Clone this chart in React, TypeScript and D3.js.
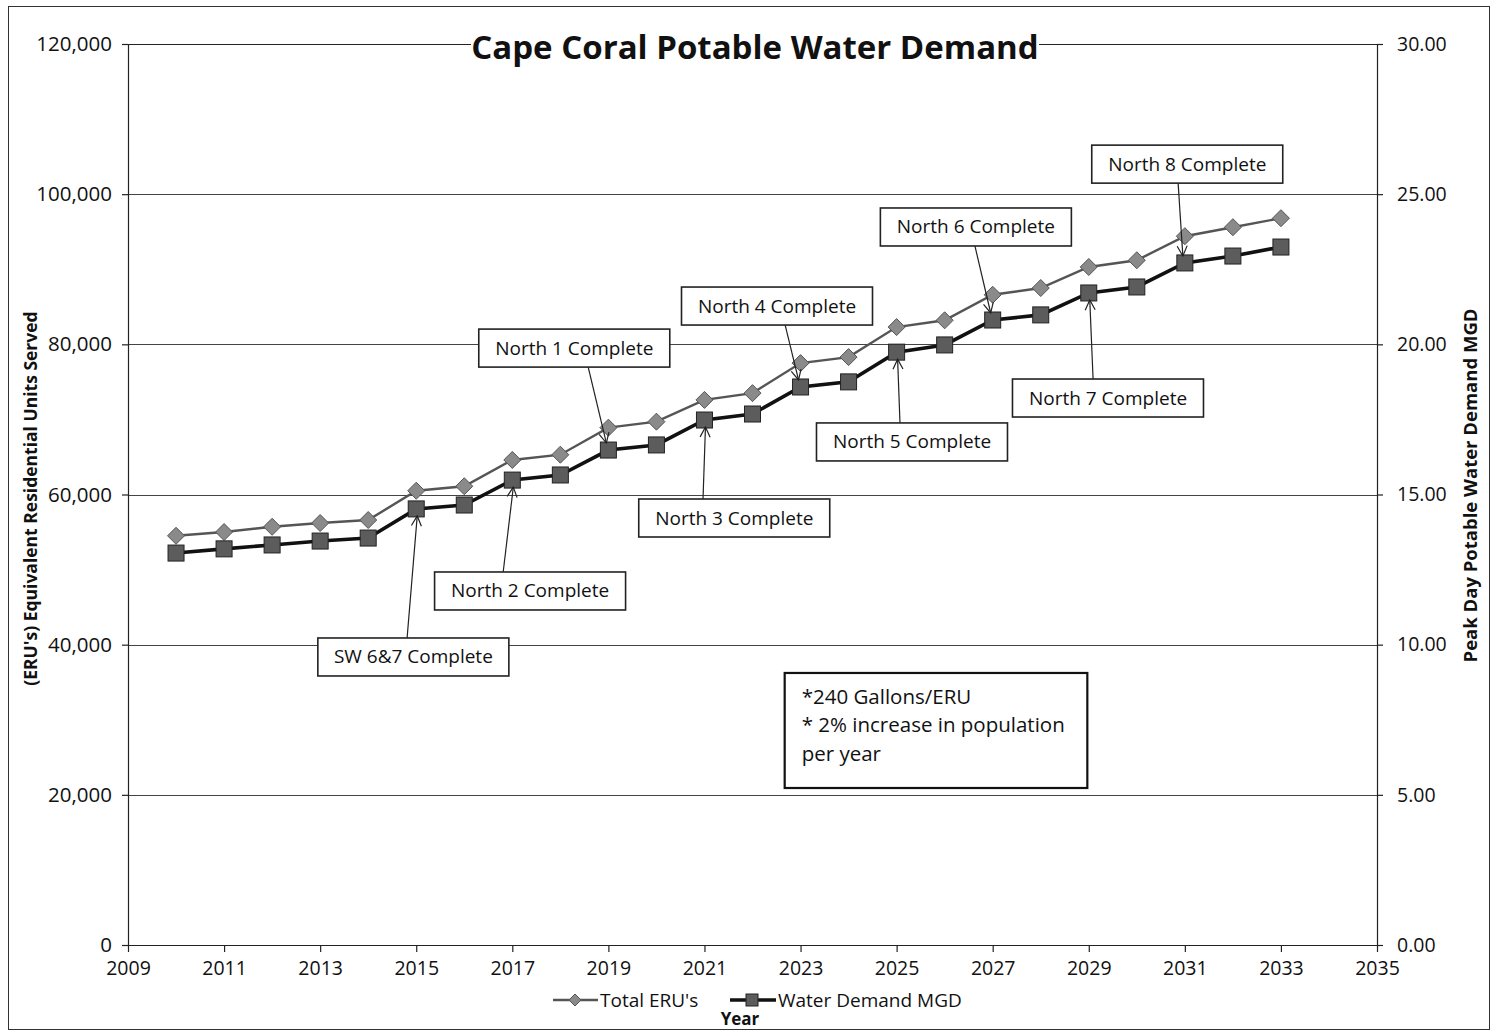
import React, { useEffect, useRef } from "react";
import * as d3 from "d3";

// values
const years = [2010, 2011, 2012, 2013, 2014, 2015, 2016, 2017, 2018, 2019, 2020, 2021, 2022, 2023, 2024, 2025, 2026, 2027, 2028, 2029, 2030, 2031, 2032, 2033];
const totalERUs = [54500, 55000, 55700, 56200, 56600, 60500, 61100, 64600, 65300, 68900, 69700, 72600, 73500, 77500, 78300, 82300, 83200, 86600, 87500, 90300, 91200, 94400, 95600, 96800];
const waterDemandMGD = [13.05, 13.19, 13.32, 13.45, 13.55, 14.52, 14.65, 15.48, 15.65, 16.48, 16.65, 17.48, 17.68, 18.58, 18.75, 19.74, 19.98, 20.81, 20.98, 21.71, 21.91, 22.71, 22.94, 23.24];

const xTicks = [2009, 2011, 2013, 2015, 2017, 2019, 2021, 2023, 2025, 2027, 2029, 2031, 2033, 2035];
const leftTicks = [0, 20000, 40000, 60000, 80000, 100000, 120000];
const rightTicks = [0, 5, 10, 15, 20, 25, 30];

const milestoneLabels = ["SW 6&7 Complete", "North 1 Complete", "North 2 Complete", "North 3 Complete", "North 4 Complete", "North 5 Complete", "North 6 Complete", "North 7 Complete", "North 8 Complete"];
const milestoneYears = [2015, 2019, 2017, 2021, 2023, 2025, 2027, 2029, 2031];

const noteLines = ["*240 Gallons/ERU", "* 2% increase in population", "per year"];

// where each callout box sits, in data units (year, ERU's)
const calloutLayout = [
  { boxYear: 2014.94, boxERU: 38360, lineYear: 2014.81, side: "below" },
  { boxYear: 2018.29, boxERU: 79500, lineYear: 2018.58, side: "above" },
  { boxYear: 2017.37, boxERU: 47150, lineYear: 2016.81, side: "below" },
  { boxYear: 2021.62, boxERU: 56870, lineYear: 2020.97, side: "below" },
  { boxYear: 2022.51, boxERU: 85100, lineYear: 2022.68, side: "above" },
  { boxYear: 2025.32, boxERU: 67000, lineYear: 2025.07, side: "below" },
  { boxYear: 2026.65, boxERU: 95630, lineYear: 2026.63, side: "above" },
  { boxYear: 2029.4, boxERU: 72850, lineYear: 2029.09, side: "below" },
  { boxYear: 2031.05, boxERU: 104000, lineYear: 2030.86, side: "above" },
];
const noteLayout = { year0: 2022.67, year1: 2028.97, eruTop: 36230, eruBottom: 20910 };

const FONT = "'Open Sans', 'Noto Sans', sans-serif";

export default function App() {
  const ref = useRef<SVGSVGElement>(null);
  const width = 1491;
  const height = 1032;
  const margin = { top: 44, right: 114, bottom: 87, left: 128 };

  useEffect(() => {
    const svg = d3.select(ref.current);
    svg.selectAll("*").remove();

    const x = d3.scaleLinear().domain([2009, 2035]).range([margin.left, width - margin.right]);
    const yL = d3.scaleLinear().domain([0, 120000]).range([height - margin.bottom, margin.top]);
    const yR = d3.scaleLinear().domain([0, 30]).range([height - margin.bottom, margin.top]);

    svg.append("rect").attr("width", width).attr("height", height).attr("fill", "#fff");
    // outer frame of the figure
    svg.append("rect")
      .attr("x", 8.5).attr("y", 6.5).attr("width", 1481).attr("height", 1023)
      .attr("fill", "none").attr("stroke", "#333").attr("stroke-width", 1);

    const defs = svg.append("defs");
    defs.append("marker")
      .attr("id", "arrow")
      .attr("viewBox", "0 0 12 12")
      .attr("refX", 11).attr("refY", 6)
      .attr("markerWidth", 12).attr("markerHeight", 12)
      .attr("markerUnits", "userSpaceOnUse")
      .attr("orient", "auto")
      .append("path")
      .attr("d", "M1,1 L11,6 L1,11")
      .attr("fill", "none").attr("stroke", "#222").attr("stroke-width", 1.2);

    // gridlines
    svg.append("g")
      .selectAll("line")
      .data(leftTicks.filter((d) => d > 0))
      .join("line")
      .attr("x1", x(2009)).attr("x2", x(2035))
      .attr("y1", (d) => Math.round(yL(d)) + 0.5).attr("y2", (d) => Math.round(yL(d)) + 0.5)
      .attr("stroke", (d) => (d === 120000 ? "#222" : "#444"))
      .attr("stroke-width", 1);

    const styleAxis = (g: any, size: number) => {
      g.selectAll("path").attr("stroke", "#222").attr("stroke-width", 1.2);
      g.selectAll("line").attr("stroke", "#222").attr("stroke-width", 1.2);
      g.selectAll("text").attr("font-family", FONT).attr("font-size", size).attr("fill", "#111");
    };

    svg.append("g")
      .attr("transform", `translate(${x(2009)},0)`)
      .call(d3.axisLeft(yL).tickValues(leftTicks).tickFormat(d3.format(",")).tickSize(6).tickSizeOuter(0).tickPadding(10))
      .call(styleAxis, 20.5);

    svg.append("g")
      .attr("transform", `translate(${x(2035)},0)`)
      .call(d3.axisRight(yR).tickValues(rightTicks).tickFormat(d3.format(".2f")).tickSize(6).tickSizeOuter(0).tickPadding(14))
      .call(styleAxis, 19.5);

    svg.append("g")
      .attr("transform", `translate(0,${yL(0)})`)
      .call(d3.axisBottom(x).tickValues(xTicks).tickFormat(d3.format("d")).tickSize(7).tickSizeOuter(0).tickPadding(9))
      .call(styleAxis, 19.5);

    // title with white backing over the top gridline
    svg.append("rect").attr("x", 471).attr("y", 28).attr("width", 568).attr("height", 40).attr("fill", "#fff");
    svg.append("text")
      .attr("x", 755).attr("y", 59)
      .attr("text-anchor", "middle")
      .attr("font-family", FONT).attr("font-weight", "bold").attr("font-size", 33)
      .attr("fill", "#111")
      .text("Cape Coral Potable Water Demand");

    svg.append("text")
      .attr("transform", `translate(37,${(yL(0) + yL(120000)) / 2 + 4}) rotate(-90)`)
      .attr("text-anchor", "middle")
      .attr("font-family", FONT).attr("font-weight", "bold").attr("font-size", 17.5)
      .attr("fill", "#111")
      .text("(ERU's) Equivalent Residential Units Served");

    svg.append("text")
      .attr("transform", `translate(1477,${(yL(0) + yL(120000)) / 2 - 9}) rotate(-90)`)
      .attr("text-anchor", "middle")
      .attr("font-family", FONT).attr("font-weight", "bold").attr("font-size", 18.5)
      .attr("fill", "#111")
      .text("Peak Day Potable Water Demand MGD");

    // series
    const eruLine = d3.line<number>().x((d, i) => x(years[i])).y((d) => yL(d));
    const mgdLine = d3.line<number>().x((d, i) => x(years[i])).y((d) => yR(d));

    svg.append("path").datum(totalERUs)
      .attr("d", eruLine).attr("fill", "none").attr("stroke", "#555").attr("stroke-width", 2.4);
    svg.append("path").datum(waterDemandMGD)
      .attr("d", mgdLine).attr("fill", "none").attr("stroke", "#111").attr("stroke-width", 3.6);

    const diamond = (r: number) => `M0,${-r} L${r},0 L0,${r} L${-r},0 Z`;

    svg.append("g")
      .selectAll("path")
      .data(totalERUs)
      .join("path")
      .attr("transform", (d, i) => `translate(${x(years[i])},${yL(d)})`)
      .attr("d", diamond(8.5))
      .attr("fill", "#8a8a8a").attr("stroke", "#555").attr("stroke-width", 1);

    svg.append("g")
      .selectAll("rect")
      .data(waterDemandMGD)
      .join("rect")
      .attr("x", (d, i) => x(years[i]) - 8)
      .attr("y", (d) => yR(d) - 8)
      .attr("width", 16).attr("height", 16)
      .attr("fill", "#5c5c5c").attr("stroke", "#222").attr("stroke-width", 1);

    // callouts
    const boxW = 191;
    const boxH = 38;
    const callouts = svg.append("g");
    milestoneLabels.forEach((label, i) => {
      const lay = calloutLayout[i];
      const idx = years.indexOf(milestoneYears[i]);
      const cx = x(lay.boxYear);
      const cy = yL(lay.boxERU);
      const tipX = x(milestoneYears[i]) + (lay.side === "below" ? 1 : -2);
      const tipY = yR(waterDemandMGD[idx]) + (lay.side === "below" ? 7 : -7);
      const startX = x(lay.lineYear);
      const startY = lay.side === "below" ? cy - boxH / 2 : cy + boxH / 2;

      callouts.append("line")
        .attr("x1", startX).attr("y1", startY)
        .attr("x2", tipX).attr("y2", tipY)
        .attr("stroke", "#222").attr("stroke-width", 1.2)
        .attr("marker-end", "url(#arrow)");

      callouts.append("rect")
        .attr("x", cx - boxW / 2).attr("y", cy - boxH / 2)
        .attr("width", boxW).attr("height", boxH)
        .attr("fill", "#fff").attr("stroke", "#222").attr("stroke-width", 1.6);

      callouts.append("text")
        .attr("x", cx).attr("y", cy + 6.5)
        .attr("text-anchor", "middle")
        .attr("font-family", FONT).attr("font-size", 19)
        .attr("fill", "#111")
        .text(label);
    });

    // assumptions note
    const nx0 = x(noteLayout.year0);
    const nx1 = x(noteLayout.year1);
    const ny0 = yL(noteLayout.eruTop);
    const ny1 = yL(noteLayout.eruBottom);
    svg.append("rect")
      .attr("x", nx0).attr("y", ny0)
      .attr("width", nx1 - nx0).attr("height", ny1 - ny0)
      .attr("fill", "#fff").attr("stroke", "#111").attr("stroke-width", 2.2);
    svg.append("g")
      .selectAll("text")
      .data(noteLines)
      .join("text")
      .attr("x", nx0 + 17)
      .attr("y", (d, i) => ny0 + 31 + i * 28.5)
      .attr("font-family", FONT).attr("font-size", 20.5)
      .attr("fill", "#111")
      .text((d) => d);

    // legend
    const lg = svg.append("g").attr("transform", `translate(0,1000)`);
    lg.append("line").attr("x1", 553).attr("x2", 598).attr("y1", 0).attr("y2", 0)
      .attr("stroke", "#555").attr("stroke-width", 2.4);
    lg.append("path").attr("transform", "translate(575,0)").attr("d", diamond(6))
      .attr("fill", "#8a8a8a").attr("stroke", "#555");
    lg.append("text").attr("x", 600).attr("y", 6.5)
      .attr("font-family", FONT).attr("font-size", 19).attr("fill", "#111")
      .text("Total ERU's");
    lg.append("line").attr("x1", 730).attr("x2", 776).attr("y1", 0).attr("y2", 0)
      .attr("stroke", "#111").attr("stroke-width", 3.6);
    lg.append("rect").attr("x", 746).attr("y", -6).attr("width", 12).attr("height", 12)
      .attr("fill", "#5c5c5c").attr("stroke", "#222");
    lg.append("text").attr("x", 778).attr("y", 6.5)
      .attr("font-family", FONT).attr("font-size", 19).attr("fill", "#111")
      .text("Water Demand MGD");

    svg.append("text")
      .attr("x", 740).attr("y", 1025)
      .attr("text-anchor", "middle")
      .attr("font-family", FONT).attr("font-weight", "bold").attr("font-size", 17)
      .attr("fill", "#111")
      .text("Year");
  }, []);

  return (
    <svg
      ref={ref}
      width={width}
      height={height}
      style={{ position: "absolute", left: 0, top: 0, display: "block" }}
    />
  );
}
